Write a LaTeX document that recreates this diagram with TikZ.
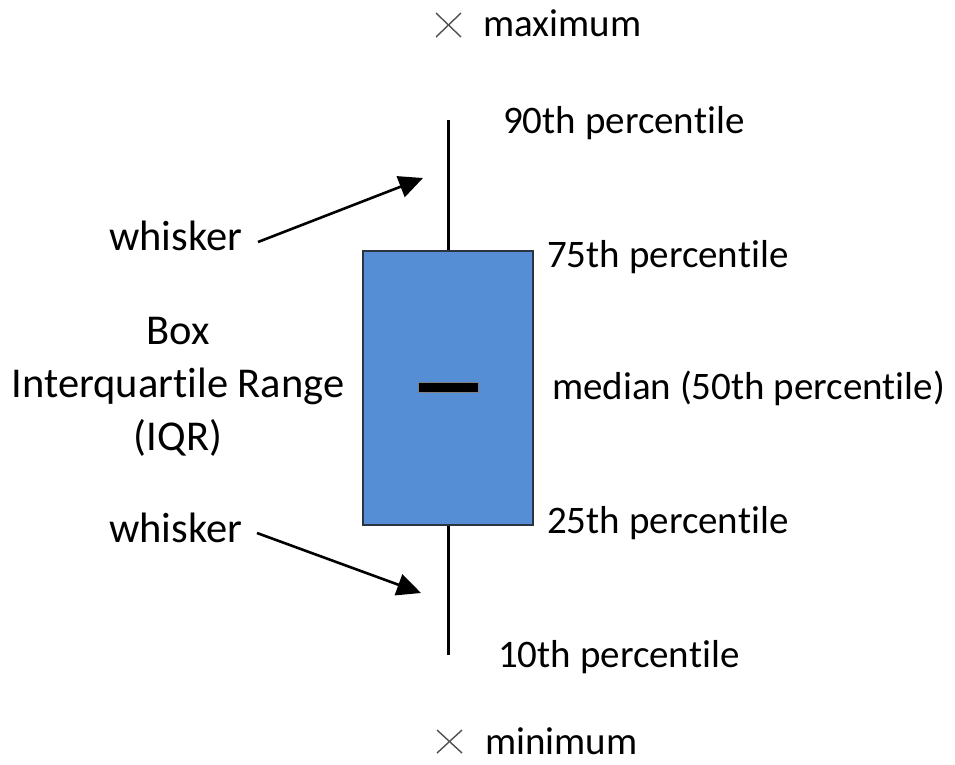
\documentclass[tikz,border=0pt]{standalone}
\usepackage{fontspec}
\setmainfont[Ligatures={NoCommon}]{Carlito}
\usetikzlibrary{arrows.meta}
\definecolor{boxblue}{HTML}{558ED5}
\definecolor{boxedge}{HTML}{2B3440}
\definecolor{crossgray}{HTML}{505050}
\begin{document}
\begin{tikzpicture}[x=1pt,y=-1pt,
  lbl/.style={anchor=base west, inner sep=0pt, font=\fontsize{39}{47}\selectfont, text=black},
  lbll/.style={anchor=base west, inner sep=0pt, font=\fontsize{42.5}{51}\selectfont, text=black},
  whiskerline/.style={line width=3pt, black},
  pointer/.style={line width=2.6pt, black, -{Triangle[length=24pt,width=22pt]}},
  crossmark/.style={line width=1.4pt, crossgray}]
\useasboundingbox (0,0) rectangle (955,764);
% box
\node[draw=boxedge, line width=1.8pt, fill=boxblue, minimum width=170pt, minimum height=274pt, inner sep=0pt] (box) at (448,388) {};
\node[draw=gray, line width=1pt, fill=black, minimum width=60pt, minimum height=10pt, inner sep=0pt] (med) at (448,387) {};
% whiskers
\coordinate (wtop) at (448,120);
\coordinate (wbot) at (448,655);
\draw[whiskerline] (wtop) -- (box.north);
\draw[whiskerline] (box.south) -- (wbot);
% labels right
\node[lbl] (p90) at (503,133) {90th percentile};
\node[lbl] (p75) at (547,267) {75th percentile};
\node[lbl] (p50) at (552,399) {median (50th percentile)};
\node[lbl] (p25) at (547,533) {25th percentile};
\node[lbl] (p10) at (498,667) {10th percentile};
% max / min
\node[lbl] (max) at (483,36) {maximum};
\node[lbl] (min) at (485,754) {minimum};
\coordinate (xa1) at (436,13); \coordinate (xa2) at (461,37);
\coordinate (xa3) at (436,37); \coordinate (xa4) at (461,13);
\draw[crossmark] (xa1) -- (xa2); \draw[crossmark] (xa3) -- (xa4);
\coordinate (xb1) at (437,730); \coordinate (xb2) at (462,753);
\coordinate (xb3) at (437,753); \coordinate (xb4) at (462,730);
\draw[crossmark] (xb1) -- (xb2); \draw[crossmark] (xb3) -- (xb4);
% left labels
\node[lbll] (wk1) at (109,250) {whisker};
\node[lbll] (wk2) at (109,542) {whisker};
\node[lbll, anchor=base] (boxl1) at (178,344) {Box};
\node[lbll, anchor=base] (boxl2) at (178,397) {Interquartile Range};
\node[lbll, anchor=base] (boxl3) at (178,450) {(IQR)};
% arrows
\coordinate (a1s) at (258,242);
\coordinate (a1e) at (423,178);
\coordinate (a2s) at (257,533);
\coordinate (a2e) at (421,593);
\draw[pointer] (a1s) -- (a1e);
\draw[pointer] (a2s) -- (a2e);
\end{tikzpicture}
\end{document}
